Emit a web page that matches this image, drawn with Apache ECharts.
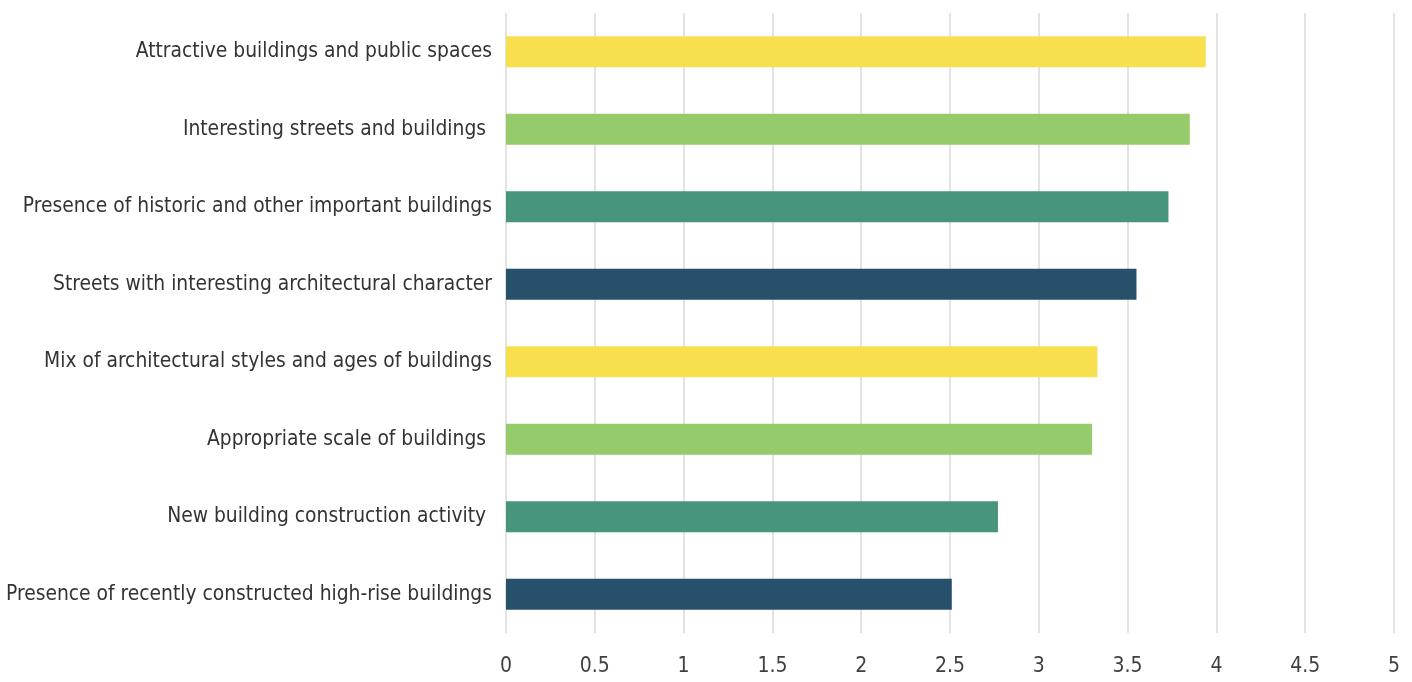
<!DOCTYPE html>
<html><head><meta charset="utf-8">
<script src="https://cdn.jsdelivr.net/npm/echarts@6/dist/echarts.min.js"></script>
<style>html,body{margin:0;padding:0;background:#fff}#c{width:1412px;height:682px}</style>
</head><body><div id="c"></div>
<script>
const categories = [
  "Presence of recently constructed high-rise buildings",
  "New building construction activity ",
  "Appropriate scale of buildings ",
  "Mix of architectural styles and ages of buildings",
  "Streets with interesting architectural character",
  "Presence of historic and other important buildings",
  "Interesting streets and buildings ",
  "Attractive buildings and public spaces"
];
const values = [2.51, 2.77, 3.30, 3.33, 3.55, 3.73, 3.85, 3.94];
const barColors = ["#27506B", "#47957D", "#95CB6A", "#F7DF4E", "#27506B", "#47957D", "#95CB6A", "#F7DF4E"];
const xTicks = [0, 0.5, 1, 1.5, 2, 2.5, 3, 3.5, 4, 4.5, 5];

const FONT = "'Liberation Sans Narrow','DejaVu Sans Condensed','Roboto Condensed',sans-serif";
const chart = echarts.init(document.getElementById('c'));
chart.setOption({
  animation: false,
  grid: { left: 506, right: 18, top: 13, bottom: 49, containLabel: false, outerBoundsMode: 'none' },
  xAxis: {
    type: 'value', min: 0, max: 5, interval: 0.5,
    axisLine: { show: false }, axisTick: { show: false },
    splitLine: { show: true, lineStyle: { color: '#e3e3e3', width: 2 } },
    axisLabel: { color: '#404040', fontSize: 21, fontFamily: FONT, margin: 23,
      formatter: v => String(v) }
  },
  yAxis: {
    type: 'category', data: categories,
    axisLine: { show: false }, axisTick: { show: false },
    axisLabel: { color: '#333333', fontSize: 20.8, fontFamily: FONT, margin: 14 }
  },
  series: [{
    type: 'bar', barWidth: '40%',
    data: values.map((v, i) => ({ value: v, itemStyle: { color: barColors[i] } }))
  }]
});
</script></body></html>
